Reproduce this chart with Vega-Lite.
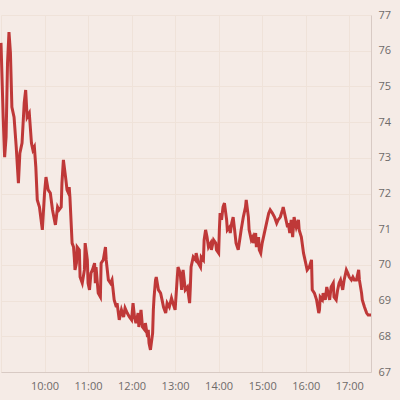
{
  "$schema": "https://vega.github.io/schema/vega-lite/v6.json",
  "width": 370,
  "height": 357,
  "autosize": {"type": "none"},
  "padding": {"left": 1, "top": 15, "right": 29, "bottom": 28},
  "background": "#f5ebe6",
  "config": {
    "view": {"stroke": null},
    "axis": {"labelFont": "Open Sans", "labelFontSize": 11, "labelColor": "#6e6a69", "ticks": false, "domainColor": "#d8cac4", "gridColor": "#efe2d9", "gridWidth": 1}
  },
  "data": {
    "format": {"parse": {"time": "date:'%H:%M'"}},
    "values": [
      {"time":"09:00","price":76.22},{"time":"09:03","price":74.14},{"time":"09:05","price":73.02},{"time":"09:07","price":73.58},
      {"time":"09:09","price":75.66},{"time":"09:11","price":76.52},{"time":"09:13","price":75.94},{"time":"09:15","price":74.42},
      {"time":"09:18","price":74.14},{"time":"09:21","price":73.30},{"time":"09:24","price":72.29},{"time":"09:26","price":73.13},
      {"time":"09:29","price":73.41},{"time":"09:32","price":74.54},{"time":"09:34","price":74.90},{"time":"09:36","price":74.14},
      {"time":"09:39","price":74.25},{"time":"09:42","price":73.41},{"time":"09:44","price":73.22},{"time":"09:46","price":73.30},
      {"time":"09:48","price":72.74},{"time":"09:50","price":71.82},{"time":"09:53","price":71.62},{"time":"09:57","price":70.98},
      {"time":"10:00","price":72.01},{"time":"10:02","price":72.46},{"time":"10:05","price":72.10},{"time":"10:08","price":72.01},
      {"time":"10:11","price":71.54},{"time":"10:15","price":71.12},{"time":"10:18","price":71.62},{"time":"10:20","price":71.54},
      {"time":"10:23","price":71.62},{"time":"10:24","price":72.29},{"time":"10:26","price":72.94},{"time":"10:29","price":72.46},
      {"time":"10:31","price":72.10},{"time":"10:33","price":72.01},{"time":"10:34","price":72.18},{"time":"10:35","price":71.90},
      {"time":"10:38","price":70.61},{"time":"10:40","price":70.50},{"time":"10:41","price":70.22},{"time":"10:42","price":69.86},
      {"time":"10:44","price":70.05},{"time":"10:45","price":70.50},{"time":"10:48","price":70.42},{"time":"10:49","price":69.66},
      {"time":"10:52","price":69.49},{"time":"10:55","price":69.86},{"time":"10:56","price":70.61},{"time":"10:59","price":70.14},
      {"time":"11:00","price":69.49},{"time":"11:02","price":69.30},{"time":"11:04","price":69.77},{"time":"11:06","price":69.86},
      {"time":"11:09","price":70.05},{"time":"11:10","price":69.49},{"time":"11:11","price":69.94},{"time":"11:14","price":69.21},
      {"time":"11:17","price":69.10},{"time":"11:18","price":70.05},{"time":"11:21","price":70.14},{"time":"11:24","price":70.50},
      {"time":"11:25","price":70.14},{"time":"11:28","price":69.58},{"time":"11:31","price":69.49},{"time":"11:33","price":69.58},
      {"time":"11:36","price":69.02},{"time":"11:39","price":68.82},{"time":"11:40","price":68.93},{"time":"11:43","price":68.46},
      {"time":"11:46","price":68.74},{"time":"11:49","price":68.54},{"time":"11:51","price":68.79},{"time":"11:54","price":68.65},
      {"time":"11:57","price":68.54},{"time":"12:00","price":68.46},{"time":"12:02","price":68.93},{"time":"12:04","price":68.54},
      {"time":"12:06","price":68.37},{"time":"12:09","price":68.65},{"time":"12:10","price":68.26},{"time":"12:13","price":68.74},
      {"time":"12:15","price":68.26},{"time":"12:18","price":68.18},{"time":"12:19","price":68.37},{"time":"12:22","price":67.98},
      {"time":"12:23","price":68.18},{"time":"12:24","price":67.81},{"time":"12:26","price":67.62},{"time":"12:29","price":68.09},
      {"time":"12:30","price":68.74},{"time":"12:31","price":69.10},{"time":"12:33","price":69.58},{"time":"12:34","price":69.66},
      {"time":"12:37","price":69.30},{"time":"12:40","price":69.21},{"time":"12:42","price":69.02},{"time":"12:44","price":68.82},
      {"time":"12:47","price":68.65},{"time":"12:49","price":68.93},{"time":"12:52","price":68.82},{"time":"12:55","price":69.07},
      {"time":"12:57","price":68.93},{"time":"13:00","price":68.74},{"time":"13:03","price":69.66},{"time":"13:04","price":69.94},
      {"time":"13:07","price":69.77},{"time":"13:09","price":69.30},{"time":"13:10","price":69.58},{"time":"13:11","price":69.86},
      {"time":"13:14","price":69.30},{"time":"13:17","price":69.38},{"time":"13:20","price":68.93},{"time":"13:21","price":69.38},
      {"time":"13:22","price":69.94},{"time":"13:25","price":70.22},{"time":"13:28","price":70.14},{"time":"13:29","price":70.33},
      {"time":"13:32","price":70.05},{"time":"13:35","price":69.94},{"time":"13:36","price":70.22},{"time":"13:39","price":70.14},
      {"time":"13:40","price":70.70},{"time":"13:42","price":70.98},{"time":"13:44","price":70.78},{"time":"13:46","price":70.50},
      {"time":"13:49","price":70.61},{"time":"13:50","price":70.42},{"time":"13:53","price":70.70},{"time":"13:56","price":70.61},
      {"time":"13:57","price":70.42},{"time":"14:00","price":70.33},{"time":"14:01","price":70.98},{"time":"14:02","price":71.45},
      {"time":"14:04","price":71.26},{"time":"14:06","price":71.62},{"time":"14:08","price":71.73},{"time":"14:11","price":71.26},
      {"time":"14:12","price":70.98},{"time":"14:15","price":71.06},{"time":"14:16","price":70.89},{"time":"14:18","price":71.17},
      {"time":"14:20","price":71.34},{"time":"14:22","price":70.98},{"time":"14:24","price":70.61},{"time":"14:27","price":70.42},
      {"time":"14:29","price":70.70},{"time":"14:31","price":70.98},{"time":"14:34","price":71.34},{"time":"14:37","price":71.62},
      {"time":"14:38","price":71.82},{"time":"14:41","price":71.34},{"time":"14:42","price":70.98},{"time":"14:45","price":70.70},
      {"time":"14:47","price":70.78},{"time":"14:48","price":70.61},{"time":"14:51","price":70.89},{"time":"14:52","price":70.50},
      {"time":"14:55","price":70.78},{"time":"14:56","price":70.42},{"time":"14:58","price":70.33},{"time":"15:00","price":70.61},
      {"time":"15:03","price":70.89},{"time":"15:06","price":71.17},{"time":"15:09","price":71.45},{"time":"15:11","price":71.54},
      {"time":"15:14","price":71.45},{"time":"15:17","price":71.34},{"time":"15:20","price":71.17},{"time":"15:22","price":71.26},
      {"time":"15:25","price":71.34},{"time":"15:28","price":71.54},{"time":"15:29","price":71.62},{"time":"15:32","price":71.34},
      {"time":"15:35","price":71.06},{"time":"15:36","price":71.17},{"time":"15:38","price":70.89},{"time":"15:40","price":71.26},
      {"time":"15:42","price":70.78},{"time":"15:44","price":71.34},{"time":"15:47","price":71.06},{"time":"15:50","price":71.26},
      {"time":"15:51","price":70.98},{"time":"15:54","price":70.78},{"time":"15:57","price":70.33},{"time":"16:00","price":70.05},
      {"time":"16:02","price":69.86},{"time":"16:05","price":69.94},{"time":"16:08","price":70.14},{"time":"16:09","price":69.30},
      {"time":"16:12","price":69.21},{"time":"16:15","price":69.02},{"time":"16:18","price":68.65},{"time":"16:19","price":68.74},
      {"time":"16:20","price":69.10},{"time":"16:23","price":69.02},{"time":"16:24","price":69.21},{"time":"16:27","price":69.02},
      {"time":"16:29","price":69.38},{"time":"16:31","price":69.21},{"time":"16:33","price":69.02},{"time":"16:35","price":69.38},
      {"time":"16:38","price":69.49},{"time":"16:39","price":69.10},{"time":"16:42","price":69.02},{"time":"16:44","price":69.30},
      {"time":"16:46","price":69.49},{"time":"16:48","price":69.58},{"time":"16:51","price":69.30},{"time":"16:53","price":69.58},
      {"time":"16:56","price":69.86},{"time":"16:58","price":69.77},{"time":"17:00","price":69.66},{"time":"17:03","price":69.58},
      {"time":"17:05","price":69.66},{"time":"17:07","price":69.58},{"time":"17:10","price":69.58},{"time":"17:13","price":69.86},
      {"time":"17:14","price":69.58},{"time":"17:17","price":69.21},{"time":"17:18","price":69.02},{"time":"17:21","price":68.82},
      {"time":"17:24","price":68.65},{"time":"17:26","price":68.60},{"time":"17:30","price":68.60}
    ]
  },
  "mark": {"type": "line", "color": "#bf3838", "strokeWidth": 3, "clip": false},
  "encoding": {
    "x": {
      "field": "time", "type": "temporal",
      "scale": {"domain": [{"year": 1900, "month": 1, "date": 1, "hours": 9}, {"year": 1900, "month": 1, "date": 1, "hours": 17, "minutes": 30}]},
      "axis": {"title": null, "format": "%H:%M", "labelOverlap": false, "labelPadding": 8,
        "labelExpr": "datum.label == '09:00' ? '' : datum.label",
        "values": [
          {"year": 1900, "month": 1, "date": 1, "hours": 9},
          {"year": 1900, "month": 1, "date": 1, "hours": 10},
          {"year": 1900, "month": 1, "date": 1, "hours": 11},
          {"year": 1900, "month": 1, "date": 1, "hours": 12},
          {"year": 1900, "month": 1, "date": 1, "hours": 13},
          {"year": 1900, "month": 1, "date": 1, "hours": 14},
          {"year": 1900, "month": 1, "date": 1, "hours": 15},
          {"year": 1900, "month": 1, "date": 1, "hours": 16},
          {"year": 1900, "month": 1, "date": 1, "hours": 17}
        ]}
    },
    "y": {
      "field": "price", "type": "quantitative",
      "scale": {"domain": [67, 77], "nice": false, "zero": false},
      "axis": {"title": null, "orient": "right", "values": [67,68,69,70,71,72,73,74,75,76,77], "labelPadding": 7, "labelAlign": "left"}
    }
  }
}
